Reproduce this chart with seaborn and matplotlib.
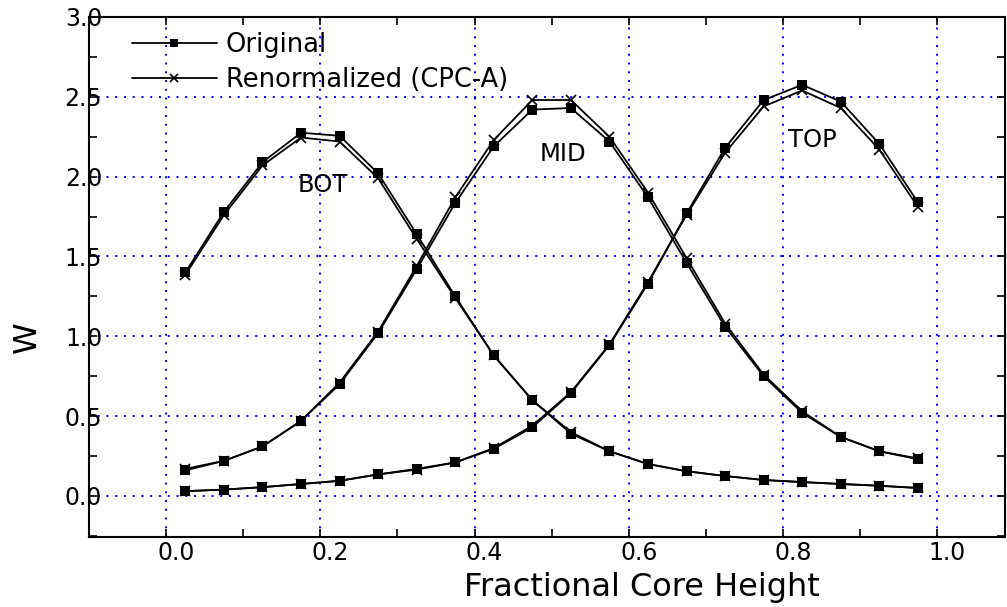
import numpy as np
import pandas as pd
import matplotlib
matplotlib.use("Agg")
import matplotlib.pyplot as plt
import matplotlib.transforms as mtransforms
from matplotlib.ticker import MultipleLocator, FormatStrFormatter
import seaborn as sns

# ---- data ----
height = [0.025, 0.075, 0.125, 0.175, 0.225, 0.275, 0.325, 0.375, 0.425, 0.475,
          0.525, 0.575, 0.625, 0.675, 0.725, 0.775, 0.825, 0.875, 0.925, 0.975]

bot_original = [1.40, 1.78, 2.09, 2.275, 2.256, 2.02, 1.64, 1.25, 0.88, 0.60,
                0.39, 0.28, 0.20, 0.155, 0.125, 0.10, 0.087, 0.075, 0.065, 0.05]
bot_renorm = [1.385, 1.76, 2.07, 2.245, 2.22, 1.99, 1.61, 1.24, 0.88, 0.60,
              0.40, 0.28, 0.20, 0.155, 0.125, 0.10, 0.087, 0.075, 0.063, 0.05]

mid_original = [0.16, 0.22, 0.31, 0.47, 0.70, 1.02, 1.42, 1.835, 2.19, 2.42,
                2.43, 2.22, 1.87, 1.46, 1.06, 0.75, 0.52, 0.37, 0.28, 0.23]
mid_renorm = [0.17, 0.22, 0.31, 0.47, 0.71, 1.03, 1.44, 1.87, 2.23, 2.48,
              2.48, 2.25, 1.90, 1.49, 1.08, 0.76, 0.53, 0.37, 0.28, 0.235]

top_original = [0.03, 0.04, 0.055, 0.075, 0.095, 0.135, 0.17, 0.21, 0.295, 0.43,
                0.645, 0.945, 1.33, 1.77, 2.18, 2.48, 2.575, 2.47, 2.205, 1.84]
top_renorm = [0.03, 0.04, 0.055, 0.075, 0.095, 0.135, 0.165, 0.21, 0.30, 0.44,
              0.65, 0.95, 1.34, 1.76, 2.15, 2.44, 2.54, 2.43, 2.17, 1.81]

series_labels = ["Original", "Renormalized (CPC-A)"]
region_names = ["BOT", "MID", "TOP"]
region_label_pos = [(0.17, 1.95), (0.484, 2.14), (0.806, 2.23)]

# ---- style ----
sns.set_style("ticks")
plt.rcParams["font.family"] = ["DejaVu Sans"]
plt.rcParams["text.color"] = "black"
plt.rcParams["axes.labelcolor"] = "black"
plt.rcParams["xtick.color"] = "black"
plt.rcParams["ytick.color"] = "black"

fig = plt.figure(figsize=(10.07, 6.07), dpi=100)
ax = fig.add_axes([89 / 1007, 1 - 537 / 607, (1005 - 89) / 1007, (537 - 17) / 607])

curves = [(bot_original, bot_renorm), (mid_original, mid_renorm), (top_original, top_renorm)]
for k, (orig, ren) in enumerate(curves):
    df = pd.DataFrame({"h": height, "orig": orig, "ren": ren})
    sns.lineplot(data=df, x="h", y="orig", ax=ax, color="black", lw=1.3,
                 marker="s", markersize=7, markeredgewidth=0, markeredgecolor="black",
                 markerfacecolor="black",
                 label=series_labels[0] if k == 0 else None, legend=False, zorder=3)
    sns.lineplot(data=df, x="h", y="ren", ax=ax, color="black", lw=1.3,
                 marker="x", markersize=7.5, markeredgewidth=1.2, markeredgecolor="black",
                 label=series_labels[1] if k == 0 else None, legend=False, zorder=3)

for name, (tx, ty) in zip(region_names, region_label_pos):
    ax.text(tx, ty, name, fontsize=17.5, ha="left", va="center", color="black", zorder=4)

ax.set_xlim(-0.1, 1.088)
ax.set_ylim(-0.257, 3.0)
ax.xaxis.set_major_locator(MultipleLocator(0.2))
ax.xaxis.set_minor_locator(MultipleLocator(0.1))
ax.yaxis.set_major_locator(MultipleLocator(0.5))
ax.yaxis.set_minor_locator(MultipleLocator(0.25))
ax.xaxis.set_major_formatter(FormatStrFormatter("%.1f"))
ax.yaxis.set_major_formatter(FormatStrFormatter("%.1f"))

ax.grid(True, which="major", color="#0000ff", linestyle=(0, (1, 3.5)), lw=1.4, zorder=1)

for s in ax.spines.values():
    s.set_linewidth(1.5)
    s.set_color("black")
    s.set_visible(True)

ax.tick_params(which="both", direction="in", top=True, right=True, width=1.2,
               color="black", labelsize=17, labelcolor="black")
ax.tick_params(which="major", length=6)
ax.tick_params(which="minor", length=6)
ax.tick_params(axis="y", pad=-9.5)
ax.tick_params(axis="x", pad=3)

offset = mtransforms.ScaledTranslation(0.1, 0, fig.dpi_scale_trans)
for lab in ax.get_xticklabels():
    lab.set_transform(lab.get_transform() + offset)

ax.set_xlabel("Fractional Core Height", fontsize=23, color="black")
ax.set_ylabel("W", fontsize=23, color="black")
ax.xaxis.set_label_coords((642 - 89) / 916, (537 - 572) / 520)
ax.yaxis.set_label_coords((43 - 89) / 916, (537 - 337) / 520)

handles, labels = ax.get_legend_handles_labels()
leg = ax.legend(handles, labels, loc="upper left", bbox_to_anchor=(0.047, 0.972),
                frameon=False, fontsize=18.5, handlelength=3.3, handletextpad=0.35,
                labelspacing=0.35, borderpad=0, borderaxespad=0, markerscale=0.75,
                labelcolor="black")

fig.savefig("out.png", dpi=100)
